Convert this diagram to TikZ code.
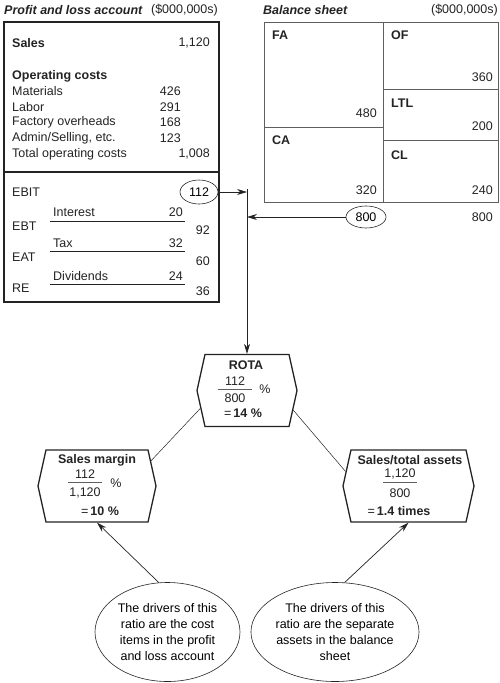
\documentclass[tikz,border=0pt]{standalone}
\usepackage{fontspec}
\setmainfont{Liberation Sans}
\usepackage{tikz}
\usetikzlibrary{arrows.meta,shapes.geometric,shapes.symbols}
\definecolor{ink}{RGB}{35,35,35}
\definecolor{rule}{RGB}{95,95,95}

\begin{document}
\begin{tikzpicture}[x=1pt,y=-1pt,font=\fontsize{12.5}{16}\selectfont,
  txt/.style={anchor=west,inner sep=0pt,text=ink},
  num/.style={anchor=east,inner sep=0pt,text=ink},
  ctr/.style={inner sep=0pt,text=ink},
  hexbox/.style={draw=ink,line width=1.3pt,shape=signal,signal to=east and west,
    signal pointer angle=155,minimum height=72pt,inner sep=0pt},
  arr/.style={ink,line width=0.7pt,-{Stealth[length=10pt,width=6pt]}},
  link/.style={ink,line width=0.5pt},
  oval/.style={draw=ink,ellipse,inner sep=0pt,line width=0.6pt}]
\useasboundingbox (0,0) rectangle (500,683);

% profit and loss account
\node[txt,font=\fontsize{12.5}{16}\selectfont\bfseries\itshape] (pltitle) at (4,10) {Profit and loss account};
\node[num] (plunit) at (218,10) {(\$000,000s)};
\draw[ink,line width=1.3pt] (4,22) rectangle (219,302);
\draw[ink,line width=1.3pt] (4,172) -- (219,172);
\node[txt,font=\fontsize{12.5}{16}\selectfont\bfseries] (sales) at (12,43) {Sales};
\node[num] (salesv) at (210,43) {1,120};
\node[txt,font=\fontsize{12.5}{16}\selectfont\bfseries] (opc) at (12,76) {Operating costs};
\node[txt] (mat) at (12,91) {Materials};
\node[num] (matv) at (181,91) {426};
\node[txt] (lab) at (12,107) {Labor};
\node[num] (labv) at (181,107) {291};
\node[txt] (fov) at (12,122) {Factory overheads};
\node[num] (fovv) at (181,122) {168};
\node[txt] (adm) at (12,138) {Admin/Selling, etc.};
\node[num] (admv) at (181,138) {123};
\node[txt] (toc) at (12,154) {Total operating costs};
\node[num] (tocv) at (210,154) {1,008};

\node[txt] (ebit) at (12,192) {EBIT};
\node[oval,minimum width=38pt,minimum height=24pt] (ebitv) at (199,192) {112};
\node[txt] (int) at (53,212) {Interest};
\node[num] (intv) at (183,212) {20};
\draw[link] (50,221) -- (185,221);
\node[txt] (ebt) at (12,226) {EBT};
\node[num] (ebtv) at (210,230) {92};
\node[txt] (tax) at (53,243) {Tax};
\node[num] (taxv) at (183,243) {32};
\draw[link] (50,251) -- (185,251);
\node[txt] (eat) at (12,257) {EAT};
\node[num] (eatv) at (210,261) {60};
\node[txt] (div) at (53,276) {Dividends};
\node[num] (divv) at (183,276) {24};
\draw[link] (50,284) -- (185,284);
\node[txt] (re) at (12,288) {RE};
\node[num] (rev) at (210,291) {36};

% balance sheet
\node[txt,font=\fontsize{12.5}{16}\selectfont\bfseries\itshape] (bstitle) at (263,10) {Balance sheet};
\node[num] (bsunit) at (498,10) {(\$000,000s)};
\draw[rule,line width=0.9pt] (264,22) rectangle (498,202);
\draw[rule,line width=0.9pt] (383,22) -- (383,202);
\draw[rule,line width=0.9pt] (264,127) -- (383,127);
\draw[rule,line width=0.9pt] (383,89) -- (498,89);
\draw[rule,line width=0.9pt] (383,140) -- (498,140);
\node[txt,font=\fontsize{12.5}{16}\selectfont\bfseries] (fa) at (272,35) {FA};
\node[num] (fav) at (377,113) {480};
\node[txt,font=\fontsize{12.5}{16}\selectfont\bfseries] (ca) at (272,140) {CA};
\node[num] (cav) at (377,190) {320};
\node[txt,font=\fontsize{12.5}{16}\selectfont\bfseries] (of) at (391,35) {OF};
\node[num] (ofv) at (493,77) {360};
\node[txt,font=\fontsize{12.5}{16}\selectfont\bfseries] (ltl) at (391,103) {LTL};
\node[num] (ltlv) at (493,126) {200};
\node[txt,font=\fontsize{12.5}{16}\selectfont\bfseries] (cl) at (391,155) {CL};
\node[num] (clv) at (493,190) {240};
\node[oval,minimum width=40pt,minimum height=22pt] (tav) at (366,217) {800};
\node[num] (tlv) at (493,217) {800};

% ratios
\node[hexbox,minimum width=100pt] (rota) at (247,390.5) {};
\node[ctr,font=\fontsize{12.5}{16}\selectfont\bfseries] (rotat) at (246,365) {ROTA};
\node[ctr] (rotan) at (235,381) {112};
\draw[rule,line width=0.5pt] (218,389.5) -- (252,389.5);
\node[ctr] (rotad) at (235,398) {800};
\node[ctr] (rotap) at (265,389) {\%};
\node[ctr] (rotar) at (243,413) {=\,\textbf{14 \%}};

\node[hexbox,minimum width=118pt] (smargin) at (97,486) {};
\node[ctr,font=\fontsize{12.5}{16}\selectfont\bfseries] (smargint) at (97,460) {Sales margin};
\node[ctr] (smarginn) at (85,474) {112};
\draw[rule,line width=0.5pt] (68,482) -- (102,482);
\node[ctr] (smargind) at (85,493) {1,120};
\node[ctr] (smarginp) at (116,483) {\%};
\node[ctr] (smarginr) at (100,511) {=\,\textbf{10 \%}};

\node[hexbox,minimum width=131pt] (salesta) at (408.5,486) {};
\node[ctr,font=\fontsize{12.5}{16}\selectfont\bfseries] (salestat) at (410,460) {Sales/total assets};
\node[ctr] (salestan) at (400,474) {1,120};
\draw[rule,line width=0.5pt] (383,482) -- (417,482);
\node[ctr] (salestad) at (400,493) {800};
\node[ctr] (salestar) at (399,511) {=\,\textbf{1.4 times}};

% drivers
\node[oval,minimum width=145pt,minimum height=99pt,align=center] (drvl) at (167.5,632)
  {The drivers of this\\ratio are the cost\\items in the profit\\and loss account};
\node[oval,minimum width=160pt,minimum height=99pt,align=center] (drvr) at (335,632)
  {The drivers of this\\ratio are the separate\\assets in the balance\\sheet};

% connectors
\coordinate (J) at (247,189);
\draw[arr] (ebitv.east) -- (ebitv.east -| J);
\draw[arr] (tav.west) -- (tav.west -| J);
\draw[arr] (J) -- (rota.north);
\draw[link] (rota.201) -- (smargin.25);
\draw[link] (rota.337) -- (salesta.167);
\draw[arr] (drvl.100) -- (smargin.south);
\draw[arr] (drvr.79) -- (salesta.south);
\end{tikzpicture}
\end{document}
